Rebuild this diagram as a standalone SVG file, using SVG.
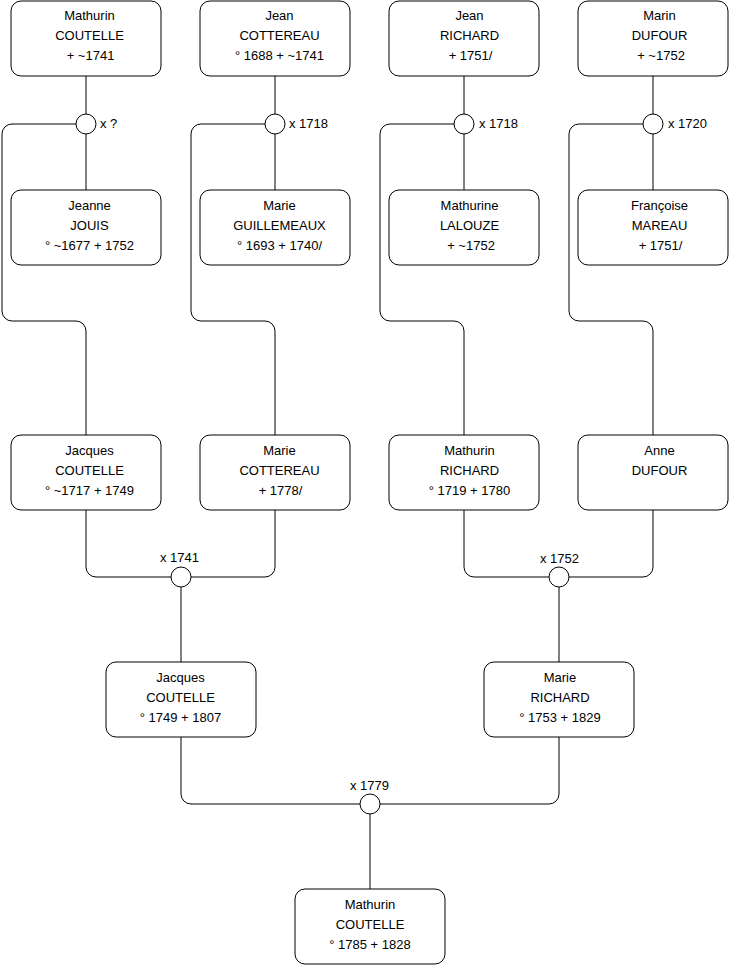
<svg xmlns="http://www.w3.org/2000/svg" width="740" height="975" viewBox="0 0 740 975">
<style>
.box{fill:#fff;stroke:#000;stroke-width:1}
.c{fill:#fff;stroke:#000;stroke-width:1}
.e{fill:none;stroke:#000;stroke-width:1}
text{font-family:"Liberation Sans",Arial,sans-serif;font-size:13px;fill:#000}
.m{text-anchor:middle}
</style>
<rect width="740" height="975" fill="#fff"/>
<g id="connectors">
<path class="e" d="M86 76V114M86 134V190M76 124H12A10 10 0 0 0 2 134V311A10 10 0 0 0 12 321H76A10 10 0 0 1 86 331V435"/>
<path class="e" d="M275 76V114M275 134V190M265 124H201A10 10 0 0 0 191 134V311A10 10 0 0 0 201 321H265A10 10 0 0 1 275 331V435"/>
<path class="e" d="M464 76V114M464 134V190M454 124H390A10 10 0 0 0 380 134V311A10 10 0 0 0 390 321H454A10 10 0 0 1 464 331V435"/>
<path class="e" d="M653 76V114M653 134V190M643 124H579A10 10 0 0 0 569 134V311A10 10 0 0 0 579 321H643A10 10 0 0 1 653 331V435"/>
<path class="e" d="M86 510V567A10 10 0 0 0 96 577H171M275 510V567A10 10 0 0 1 265 577H191M181 587V662"/>
<path class="e" d="M464 510V567A10 10 0 0 0 474 577H549M653 510V567A10 10 0 0 1 643 577H569M559 587V662"/>
<path class="e" d="M181 737V794A10 10 0 0 0 191 804H360M559 737V794A10 10 0 0 1 549 804H380M370 814V889"/>
</g>
<g id="union1"><circle class="c" cx="86" cy="124" r="10"/><text x="100" y="128">x ?</text></g>
<g id="union2"><circle class="c" cx="275" cy="124" r="10"/><text x="289" y="128">x 1718</text></g>
<g id="union3"><circle class="c" cx="464" cy="124" r="10"/><text x="479" y="128">x 1718</text></g>
<g id="union4"><circle class="c" cx="653" cy="124" r="10"/><text x="668" y="128">x 1720</text></g>
<g id="union5"><circle class="c" cx="181" cy="577" r="10"/><text class="m" x="179.5" y="562">x 1741</text></g>
<g id="union6"><circle class="c" cx="559" cy="577" r="10"/><text class="m" x="559.5" y="563">x 1752</text></g>
<g id="union7"><circle class="c" cx="370" cy="804" r="10"/><text class="m" x="369.5" y="790">x 1779</text></g>

<g id="mathurin-coutelle-sr"><rect class="box" x="11" y="1" width="150" height="75" rx="10"/>
<text class="m" x="89.5" y="20">Mathurin</text><text class="m" x="89.5" y="40">COUTELLE</text><text class="m" x="90.5" y="60">+ ~1741</text></g>
<g id="jean-cottereau"><rect class="box" x="200" y="1" width="150" height="75" rx="10"/>
<text class="m" x="279.5" y="20">Jean</text><text class="m" x="279.5" y="40">COTTEREAU</text><text class="m" x="279.5" y="60">° 1688 + ~1741</text></g>
<g id="jean-richard"><rect class="box" x="389" y="1" width="150" height="75" rx="10"/>
<text class="m" x="469.5" y="20">Jean</text><text class="m" x="469.5" y="40">RICHARD</text><text class="m" x="470.5" y="60">+ 1751/</text></g>
<g id="marin-dufour"><rect class="box" x="578" y="1" width="150" height="75" rx="10"/>
<text class="m" x="659.5" y="20">Marin</text><text class="m" x="659.5" y="40">DUFOUR</text><text class="m" x="661" y="60">+ ~1752</text></g>

<g id="jeanne-jouis"><rect class="box" x="11" y="190" width="150" height="75" rx="10"/>
<text class="m" x="89.5" y="210">Jeanne</text><text class="m" x="89.5" y="230">JOUIS</text><text class="m" x="89.5" y="250">° ~1677 + 1752</text></g>
<g id="marie-guillemeaux"><rect class="box" x="200" y="190" width="150" height="75" rx="10"/>
<text class="m" x="279.5" y="210">Marie</text><text class="m" x="279.5" y="230">GUILLEMEAUX</text><text class="m" x="279.5" y="250">° 1693 + 1740/</text></g>
<g id="mathurine-lalouze"><rect class="box" x="389" y="190" width="150" height="75" rx="10"/>
<text class="m" x="469.5" y="210">Mathurine</text><text class="m" x="469.5" y="230">LALOUZE</text><text class="m" x="471" y="250">+ ~1752</text></g>
<g id="francoise-mareau"><rect class="box" x="578" y="190" width="150" height="75" rx="10"/>
<text class="m" x="659.5" y="210">Françoise</text><text class="m" x="659.5" y="230">MAREAU</text><text class="m" x="660.5" y="250">+ 1751/</text></g>

<g id="jacques-coutelle-sr"><rect class="box" x="11" y="435" width="150" height="75" rx="10"/>
<text class="m" x="89.5" y="455">Jacques</text><text class="m" x="89.5" y="475">COUTELLE</text><text class="m" x="89.5" y="495">° ~1717 + 1749</text></g>
<g id="marie-cottereau"><rect class="box" x="200" y="435" width="150" height="75" rx="10"/>
<text class="m" x="279.5" y="455">Marie</text><text class="m" x="279.5" y="475">COTTEREAU</text><text class="m" x="280.5" y="495">+ 1778/</text></g>
<g id="mathurin-richard"><rect class="box" x="389" y="435" width="150" height="75" rx="10"/>
<text class="m" x="469.5" y="455">Mathurin</text><text class="m" x="469.5" y="475">RICHARD</text><text class="m" x="469.5" y="495">° 1719 + 1780</text></g>
<g id="anne-dufour"><rect class="box" x="578" y="435" width="150" height="75" rx="10"/>
<text class="m" x="659.5" y="455">Anne</text><text class="m" x="659.5" y="475">DUFOUR</text></g>

<g id="jacques-coutelle"><rect class="box" x="106" y="662" width="150" height="75" rx="10"/>
<text class="m" x="180.5" y="682">Jacques</text><text class="m" x="180.5" y="702">COUTELLE</text><text class="m" x="180.5" y="722">° 1749 + 1807</text></g>
<g id="marie-richard"><rect class="box" x="484" y="662" width="150" height="75" rx="10"/>
<text class="m" x="560" y="682">Marie</text><text class="m" x="560" y="702">RICHARD</text><text class="m" x="560" y="722">° 1753 + 1829</text></g>
<g id="mathurin-coutelle"><rect class="box" x="295" y="889" width="150" height="75" rx="10"/>
<text class="m" x="370" y="909">Mathurin</text><text class="m" x="370" y="929">COUTELLE</text><text class="m" x="370" y="949">° 1785 + 1828</text></g>
</svg>
